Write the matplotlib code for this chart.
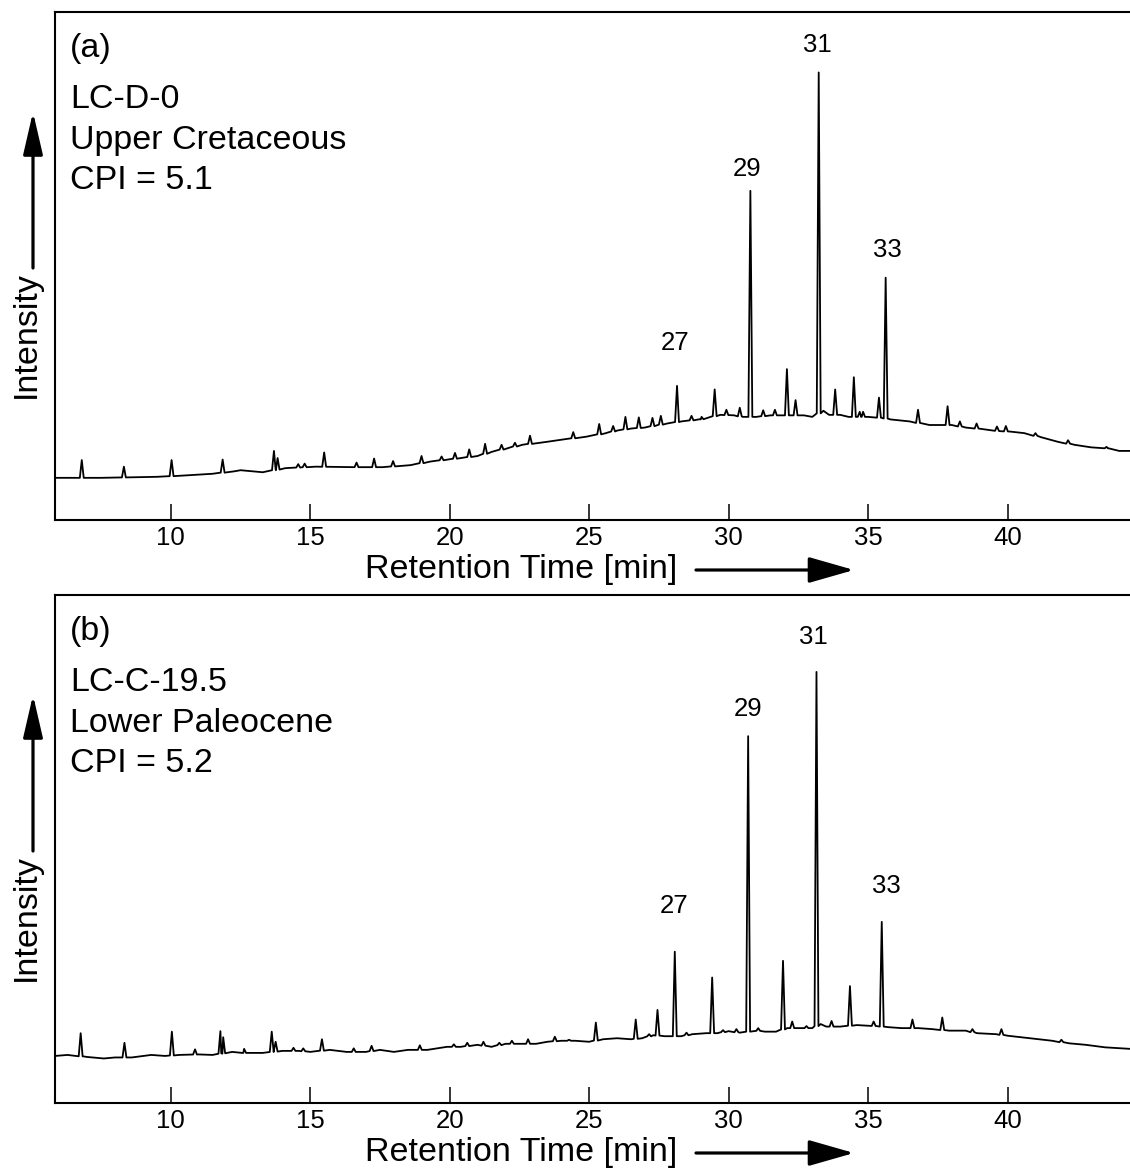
import numpy as np
import matplotlib.pyplot as plt
from matplotlib.patches import FancyArrowPatch

plt.rcParams['font.family'] = ['Liberation Sans', 'DejaVu Sans']

# ---- panel (a): LC-D-0, Upper Cretaceous ----
a_base_t = [5.85, 7.5, 9.5, 10.3, 11.5, 12.3, 12.5, 13.3, 14.1, 15.2, 16.5, 17.6, 18.6,
            19.3, 20.4, 21.0, 21.5, 22.6, 23.5, 24.0, 24.9, 25.6, 26.0, 26.5, 27.0, 27.8,
            28.3, 29.0, 29.7, 30.2, 30.5, 31.0, 31.5, 32.0, 32.7, 33.0, 33.4, 33.6, 34.0,
            34.3, 35.0, 35.5, 35.8, 36.5, 37.2, 38.0, 38.5, 39.1, 39.7, 40.1, 40.6, 41.2,
            41.8, 42.4, 43.0, 43.6, 44.0, 44.39]
a_base_v = [8.3, 8.3, 8.5, 8.7, 9.1, 9.6, 9.8, 9.4, 10.2, 10.5, 10.4, 10.4, 10.8,
            11.5, 12.2, 12.6, 13.4, 14.8, 15.4, 15.8, 16.4, 17.1, 17.6, 18.0, 18.2, 19.0,
            19.4, 19.8, 20.7, 20.6, 20.3, 20.3, 20.6, 20.6, 20.6, 20.3, 21.5, 20.7, 20.7,
            20.3, 20.3, 20.1, 19.8, 19.4, 18.7, 18.7, 18.2, 17.9, 17.5, 17.4, 17.1, 16.3,
            15.4, 14.8, 14.3, 14.1, 13.6, 13.6]
a_peak_t = [6.81, 8.32, 10.03, 11.86, 13.70, 13.83, 14.57, 14.80, 15.50, 16.66, 17.29,
            17.97, 18.99, 19.71, 20.19, 20.70, 21.27, 21.86, 22.34, 22.88, 24.43, 25.36,
            25.86, 26.30, 26.78, 27.27, 27.57, 28.15, 28.67, 29.03, 29.50, 29.92, 30.40,
            30.78, 31.24, 31.66, 32.09, 32.40, 33.23, 33.82, 34.49, 34.70, 34.82, 35.39,
            35.63, 36.79, 37.85, 38.29, 38.89, 39.62, 39.94, 41.00, 42.17, 43.55]
a_peak_v = [11.8, 10.5, 11.8, 11.9, 13.6, 12.2, 11.0, 11.1, 13.3, 11.3, 12.1,
            11.6, 12.6, 12.5, 13.2, 13.9, 15.0, 14.8, 15.2, 16.6, 17.3, 18.9,
            18.5, 20.3, 20.2, 20.1, 20.5, 26.4, 20.5, 20.3, 25.7, 21.7, 22.1,
            64.8, 21.6, 21.7, 29.7, 23.6, 88.1, 25.7, 28.1, 21.3, 21.3, 24.1,
            47.7, 21.7, 22.4, 19.4, 19.0, 18.4, 18.5, 17.1, 15.7, 14.4]
a_lab_text = ['27', '29', '31', '33']
a_lab_t = [28.09, 30.66, 33.18, 35.69]
a_lab_v = [33.5, 67.7, 92.2, 51.8]
a_info = ['(a)', 'LC-D-0', 'Upper Cretaceous', 'CPI = 5.1']

# ---- panel (b): LC-C-19.5, Lower Paleocene ----
b_base_t = [5.85, 6.3, 7.0, 7.6, 8.0, 8.6, 9.3, 9.8, 10.3, 11.0, 11.5, 12.2, 12.6, 13.3,
            14.0, 14.6, 15.0, 15.7, 16.3, 17.0, 17.5, 18.0, 18.5, 19.2, 19.9, 20.4, 21.0,
            21.5, 22.0, 22.5, 23.1, 23.5, 24.0, 24.5, 25.0, 25.5, 26.0, 26.5, 26.9, 27.3,
            27.7, 28.3, 28.7, 29.2, 29.6, 30.0, 30.4, 31.0, 31.3, 31.7, 32.1, 32.6, 33.0,
            33.3, 33.5, 34.0, 34.6, 35.3, 35.7, 36.2, 36.8, 37.3, 37.9, 38.5, 38.9, 39.6,
            40.0, 40.8, 41.6, 42.2, 42.8, 43.5, 44.39]
b_base_v = [9.3, 9.5, 9.1, 8.8, 9.0, 9.0, 9.5, 9.3, 9.5, 9.6, 9.5, 10.1, 9.9, 9.9,
            10.3, 10.3, 10.1, 10.5, 10.1, 10.1, 10.5, 10.1, 10.5, 10.5, 11.1, 11.1, 11.5,
            11.1, 11.7, 11.7, 11.7, 12.1, 12.3, 12.3, 12.1, 12.6, 12.8, 12.6, 12.8, 13.4,
            13.2, 13.2, 13.6, 13.8, 13.8, 14.2, 13.9, 14.3, 14.1, 14.1, 14.8, 14.8, 14.8,
            15.6, 15.1, 15.1, 15.4, 15.2, 15.0, 14.8, 14.8, 14.6, 14.3, 14.3, 13.8, 13.6,
            13.3, 12.8, 12.3, 11.8, 11.5, 11.0, 10.7]
b_peak_t = [6.77, 8.34, 10.04, 10.87, 11.78, 11.88, 12.63, 13.62, 13.76, 14.40, 14.75,
            15.42, 16.56, 17.20, 18.93, 20.15, 20.63, 21.21, 21.78, 22.23, 22.81, 23.77,
            24.28, 25.24, 26.67, 27.15, 27.45, 28.07, 28.49, 29.41, 29.80, 30.28, 30.70,
            31.06, 31.95, 32.28, 32.79, 33.15, 33.69, 34.35, 35.20, 35.49, 36.59, 37.66,
            38.74, 39.78, 41.93]
b_peak_v = [13.8, 11.9, 14.1, 10.6, 14.2, 13.0, 10.7, 14.1, 12.1, 10.9, 10.8,
            12.6, 10.8, 11.3, 11.4, 11.6, 11.9, 12.1, 11.9, 12.3, 12.6, 13.1,
            12.5, 15.9, 16.5, 13.6, 18.4, 29.9, 13.9, 24.8, 14.4, 14.6, 72.5,
            14.8, 28.1, 16.1, 15.2, 85.2, 16.2, 23.1, 16.1, 35.8, 16.5, 16.9,
            14.6, 14.6, 12.5]
b_lab_text = ['27', '29', '31', '33']
b_lab_t = [28.04, 30.68, 33.04, 35.64]
b_lab_v = [37.5, 76.5, 90.7, 41.6]
b_info = ['(b)', 'LC-C-19.5', 'Lower Paleocene', 'CPI = 5.2']

xticks = [10, 15, 20, 25, 30, 35, 40]


def build_trace(base_t, base_v, peak_t, peak_v, hw=0.07):
    # baseline knots plus a narrow spike for every peak
    pts = list(zip(base_t, base_v))
    for t, v in zip(peak_t, peak_v):
        b = np.interp(t, base_t, base_v)
        pts += [(t - hw, b), (t, v), (t + hw, b)]
    pts.sort()
    x, y = zip(*pts)
    return np.array(x), np.array(y)


fig = plt.figure(figsize=(11.3, 11.71), dpi=100)
ax_a = fig.add_axes([55 / 1130, 1 - 520 / 1171, 1075 / 1130, 508 / 1171])
ax_b = fig.add_axes([55 / 1130, 1 - 1103 / 1171, 1075 / 1130, 508 / 1171])

panels = [
    (ax_a, a_base_t, a_base_v, a_peak_t, a_peak_v, a_lab_text, a_lab_t, a_lab_v, a_info, 100.0),
    (ax_b, b_base_t, b_base_v, b_peak_t, b_peak_v, b_lab_text, b_lab_t, b_lab_v, b_info, 100.4),
]
info_y = [0.912, 0.812, 0.731, 0.652]

for ax, bt, bv, pt, pv, lt, lx, ly, info, ytop in panels:
    x, y = build_trace(bt, bv, pt, pv)
    ax.plot(x, y, color='black', linewidth=1.3)
    for s, tx, ty in zip(lt, lx, ly):
        ax.text(tx, ty, s, ha='center', va='baseline', fontsize=18.5)
    for s, fy in zip(info, info_y):
        ax.text(15 / 1075, fy, s, transform=ax.transAxes, ha='left', va='baseline', fontsize=24.5)
    ax.set_xlim(5.85, 44.39)
    ax.set_ylim(0, ytop)
    ax.set_xticks(xticks)
    ax.set_yticks([])
    ax.tick_params(axis='x', direction='in', length=11.5, width=1.1, labelsize=18.5, pad=4)
    for side in ['left', 'bottom', 'top']:
        ax.spines[side].set_linewidth(1.5)
    ax.spines['right'].set_visible(False)

# axis titles with arrows
for top_px in [0, 583]:
    fig.text(26 / 1130, 1 - (335 + top_px) / 1171, 'Intensity', rotation=90,
             ha='center', va='center', fontsize=24.5)
    fig.add_artist(FancyArrowPatch((33 / 1130, 1 - (268 + top_px) / 1171),
                                   (33 / 1130, 1 - (112 + top_px) / 1171),
                                   transform=fig.transFigure, arrowstyle='-|>,head_length=26,head_width=6',
                                   mutation_scale=1, color='black', linewidth=2.3,
                                   shrinkA=0, shrinkB=0))
    fig.text(521.5 / 1130, 1 - (578 + top_px) / 1171, 'Retention Time [min]',
             ha='center', va='baseline', fontsize=24.5)
    fig.add_artist(FancyArrowPatch((696 / 1130, 1 - (570 + top_px) / 1171),
                                   (854 / 1130, 1 - (570 + top_px) / 1171),
                                   transform=fig.transFigure, arrowstyle='-|>,head_length=28,head_width=8',
                                   mutation_scale=1, color='black', linewidth=2.3,
                                   shrinkA=0, shrinkB=0))

fig.savefig('out.png', dpi=100)
